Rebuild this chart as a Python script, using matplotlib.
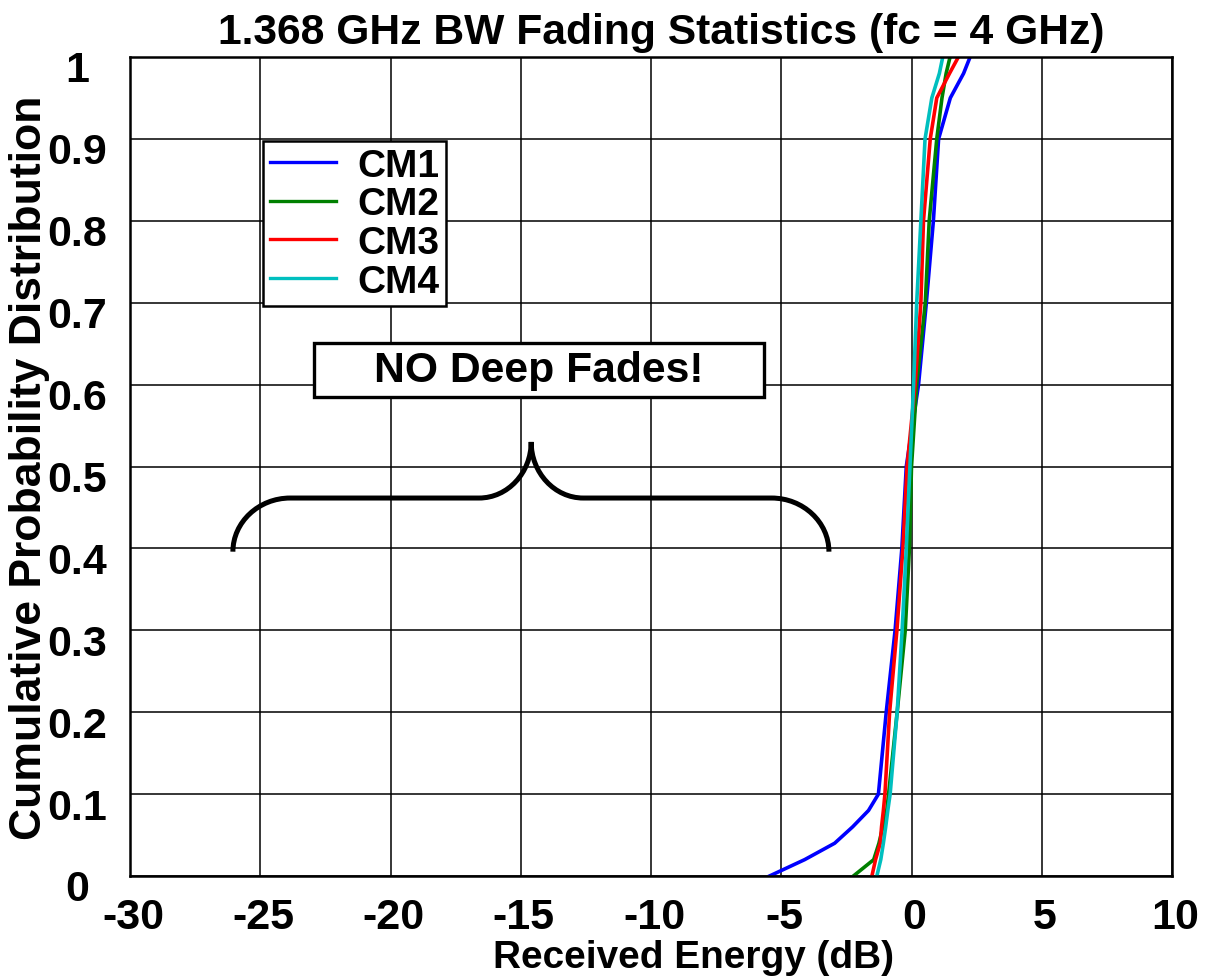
import matplotlib
matplotlib.use("Agg")
import matplotlib.pyplot as plt
import matplotlib.font_manager as fm
from matplotlib.path import Path
from matplotlib.patches import PathPatch, Rectangle
import matplotlib.transforms as mtransforms

# ---------------- data ----------------
prob = [0, .02, .04, .06, .08, .1, .2, .3, .4, .5, .6, .7, .8, .9, .95, .98, 1.0]
cm1 = [-5.45, -4.1, -2.95, -2.26, -1.65, -1.27, -0.97, -0.63, -0.37, -0.2, 0.27, 0.57, 0.84, 1.04, 1.49, 2.0, 2.25]
cm2 = [-2.23, -1.45, -1.25, -1.1, -0.95, -0.88, -0.55, -0.24, -0.08, 0.0, 0.2, 0.53, 0.68, 0.97, 1.17, 1.33, 1.48]
cm3 = [-1.52, -1.38, -1.2, -1.15, -1.08, -1.02, -0.84, -0.56, -0.33, -0.17, 0.14, 0.36, 0.46, 0.72, 0.97, 1.46, 1.8]
cm4 = [-1.33, -1.18, -1.08, -0.99, -0.91, -0.82, -0.55, -0.36, -0.2, -0.06, 0.08, 0.2, 0.36, 0.52, 0.78, 1.07, 1.2]
series_names = ["CM1", "CM2", "CM3", "CM4"]
series_colors = ["#0000ff", "#008000", "#ff0000", "#00bfbf"]
xticks = [-30, -25, -20, -15, -10, -5, 0, 5, 10]
xticklabels = ["-30", "-25", "-20", "-15", "-10", "-5", "0", "5", "10"]
yticks = [0, .1, .2, .3, .4, .5, .6, .7, .8, .9, 1.0]
yticklabels = ["0", "0.1", "0.2", "0.3", "0.4", "0.5", "0.6", "0.7", "0.8", "0.9", "1"]

# ---------------- fonts ----------------
names = {f.name for f in fm.fontManager.ttflist}
if "Liberation Sans Narrow" in names:
    FAM, S = "Liberation Sans Narrow", 1.0 / 0.82
else:
    FAM, S = "Liberation Sans", 1.0
plt.rcParams["font.family"] = [FAM, "DejaVu Sans"]
plt.rcParams["font.weight"] = "bold"

fig = plt.figure(figsize=(12.07, 9.78), dpi=100)
ax = fig.add_axes([130/1207, 1-877/978, 1042/1207, 819/978])

for vals, nm, col in zip([cm1, cm2, cm3, cm4], series_names, series_colors):
    ax.plot(vals, prob, color=col, lw=2.6, label=nm, zorder=5)

ax.set_xlim(-30, 10)
ax.set_ylim(0, 1)
ax.set_xticks(xticks)
ax.set_xticklabels(xticklabels)
ax.set_yticks(yticks)
ax.set_yticklabels(yticklabels, ha="center")
ax.grid(True, color="black", lw=1.1, ls="-")
ax.set_axisbelow(True)
ax.tick_params(axis="both", length=0, labelsize=31*S)
ax.tick_params(axis="x", pad=15)
ax.tick_params(axis="y", pad=38)
for sp in ax.spines.values():
    sp.set_linewidth(1.8)
    sp.set_zorder(6)

# shift y tick labels slightly down, x tick labels slightly right, like reference
offy = mtransforms.ScaledTranslation(0, -9/100, fig.dpi_scale_trans)
for lab in ax.get_yticklabels():
    lab.set_transform(lab.get_transform() + offy)
offx = mtransforms.ScaledTranslation(3/100, 0, fig.dpi_scale_trans)
for lab in ax.get_xticklabels():
    lab.set_transform(lab.get_transform() + offx)

ax.set_xlabel("Received Energy (dB)", fontsize=27.9*S, fontweight="bold")
ax.xaxis.set_label_coords(0.541, -0.077)
ax.set_ylabel("Cumulative Probability Distribution", fontsize=32*S, fontweight="bold")
ax.yaxis.set_label_coords(-0.077, 0.5)
fig.text(661/1207, 1-33/978, "1.368 GHz BW Fading Statistics (fc = 4 GHz)",
         ha="center", va="center", fontsize=30.7*S, fontweight="bold")

leg = ax.legend(loc="upper left", bbox_to_anchor=(0.1276, 0.8974), fontsize=28*S,
                frameon=True, fancybox=False, edgecolor="black", framealpha=1,
                handlelength=1.7, handletextpad=0.55, borderpad=0.17,
                labelspacing=0.07, borderaxespad=0)
leg.get_frame().set_linewidth(1.8)
for t in leg.get_texts():
    t.set_fontweight("bold")
for ln in leg.get_lines():
    ln.set_linewidth(2.4)
leg.set_zorder(7)

# "NO Deep Fades!" box
ax.add_patch(Rectangle((-22.94, 0.585), 17.28, 0.066, facecolor="white",
                       edgecolor="black", lw=2.4, zorder=8))
ax.text(-14.3, 0.618, "NO Deep Fades!", ha="center", va="center",
        fontsize=30.7*S, fontweight="bold", zorder=9)

# curly brace
xl, xr, xc = -26.05, -3.17, -14.6
yb, yh, yp = 0.396, 0.4615, 0.53
rx, k = 2.2, 0.55
cx = 2.0
verts = [
    (xl, yb), (xl, yb + k*(yh-yb)), (xl + rx - k*rx, yh), (xl + rx, yh),
    (xc - cx, yh),
    (xc - cx + k*cx, yh), (xc, yp - k*(yp-yh)), (xc, yp),
    (xc, yp - k*(yp-yh)), (xc + cx - k*cx, yh), (xc + cx, yh),
    (xr - rx, yh),
    (xr - rx + k*rx, yh), (xr, yb + k*(yh-yb)), (xr, yb),
]
codes = [Path.MOVETO, Path.CURVE4, Path.CURVE4, Path.CURVE4,
         Path.LINETO,
         Path.CURVE4, Path.CURVE4, Path.CURVE4,
         Path.CURVE4, Path.CURVE4, Path.CURVE4,
         Path.LINETO,
         Path.CURVE4, Path.CURVE4, Path.CURVE4]
ax.add_patch(PathPatch(Path(verts, codes), facecolor="none", edgecolor="black",
                       lw=3.6, capstyle="butt", zorder=8))

fig.savefig("out.png", dpi=100, facecolor="white")
